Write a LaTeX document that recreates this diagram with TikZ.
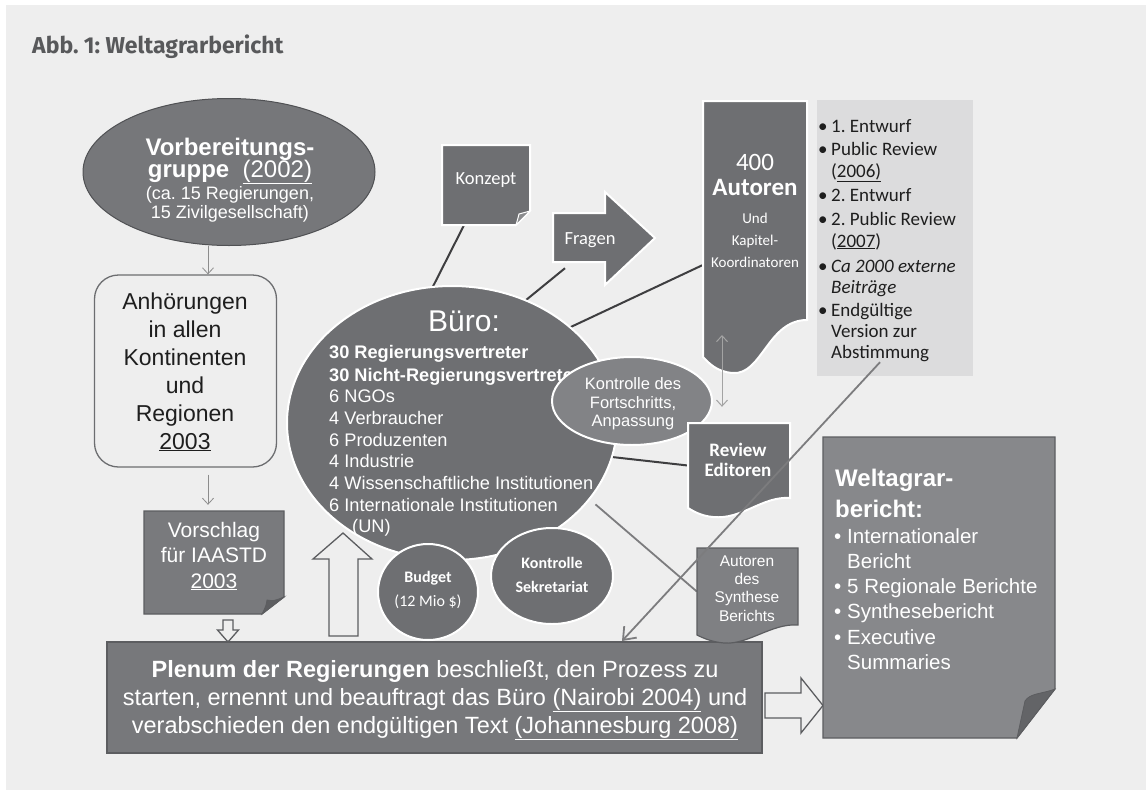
\documentclass[tikz,border=0pt]{standalone}
\usepackage{fontspec}
\setmainfont{Liberation Sans}
\newfontfamily\calfnt{Carlito}
\newfontfamily\titlefnt{Fira Sans}
\usetikzlibrary{shapes.geometric,arrows.meta,calc}
\definecolor{bgc}{HTML}{EEEEEE}
\definecolor{dkf}{HTML}{6E6F72}
\definecolor{vbf}{HTML}{76777A}
\definecolor{vbd}{HTML}{505154}
\definecolor{vsf}{HTML}{797A7D}
\definecolor{plf}{HTML}{77787B}
\definecolor{kff}{HTML}{828386}
\definecolor{syf}{HTML}{7F8083}
\definecolor{wbf}{HTML}{87888B}
\definecolor{bxd}{HTML}{5C5D60}
\definecolor{bulf}{HTML}{DCDCDD}
\definecolor{lnd}{HTML}{3E3E40}
\definecolor{lng}{HTML}{7C7C7E}
\definecolor{thn}{HTML}{8C8C8C}
\definecolor{ttc}{HTML}{58595B}
\definecolor{txd}{HTML}{1E1E1E}
\newcommand\fs[1]{\fontsize{#1}{#1}\selectfont}
\frenchspacing
\begin{document}
\begin{tikzpicture}[x=1pt,y=-1pt,
 lb/.style={inner sep=0pt, anchor=base},
 lbw/.style={inner sep=0pt, anchor=base west},
 bbox/.style={inner sep=0pt, draw=none, rectangle},
 dk/.style={draw=lnd, line width=2pt},
 gl/.style={draw=lng, line width=1.8pt},
 thinar/.style={draw=thn, line width=0.8pt, -{Straight Barb[length=6pt,width=11pt]}},
 blk/.style={fill=bgc, draw=bxd, line width=1.3pt, line join=miter},
 wb/.style={draw=white, line width=2pt},
 wt/.style={text=white},
]
\useasboundingbox (0,0) rectangle (1146,790);
\fill[white] (0,0) rectangle (1146,790);
\fill[bgc] (6,5) rectangle (1146,790);

% title
\node[lbw, text=ttc, font=\titlefnt\bfseries\fs{23}] (title) at (32,53) {Abb. 1: Weltagrarbericht};

% ---------- left column ----------
\node[ellipse, minimum width=292pt, minimum height=147pt, inner sep=0pt, fill=vbf, draw=vbd, line width=1pt] (vorb) at (229,172) {};
\node[lb, wt, font=\bfseries\fs{24}] (vb1) at (230,155) {Vorbereitungs-};
\node[lb, wt, font=\fs{24}] (vb2) at (230,177) {\textbf{gruppe}\ \ \underline{(2002)}};
\node[lb, wt, font=\fs{18}] (vb3) at (230,199) {(ca. 15 Regierungen,};
\node[lb, wt, font=\fs{18}] (vb4) at (230,218) {15 Zivilgesellschaft)};

\node[rectangle, rounded corners=24pt, minimum width=182pt, minimum height=192pt, inner sep=0pt, fill=bgc, draw=bxd!90, line width=1.3pt] (anh) at (185.5,371) {};
\foreach \t/\y [count=\i] in {{Anh\"orungen}/309, {in allen}/337, {Kontinenten}/365, {und}/393, {Regionen}/421, {\underline{2003}}/449}
  \node[lb, text=txd, font=\fs{23}] (an\i) at (185,\y) {\t};

% Vorschlag
\node[bbox, minimum width=140pt, minimum height=103pt] (vors) at (214,562.5) {};
\filldraw[fill=vsf, draw=bxd, line width=1.2pt] (144,511) -- (284,511) -- (284,597) -- (262,614) -- (144,614) -- cycle;
\filldraw[fill=dkf!85!black, draw=bxd, line width=0.8pt] (262,614) .. controls (266,606) .. (267,600) .. controls (274,601) .. (284,597) -- cycle;
\node[lb, wt, font=\fs{21}] (vs1) at (214,537) {Vorschlag};
\node[lb, wt, font=\fs{21}] (vs2) at (214,562) {f\"ur IAASTD};
\node[lb, wt, font=\fs{21}] (vs3) at (214,588) {\underline{2003}};

\draw[thinar] ([xshift=-21pt]vorb.south) -- ([xshift=22.5pt]anh.north);
\draw[thinar] ([xshift=22.5pt,yshift=-7pt]anh.south) -- ([xshift=-6pt,yshift=6pt]vors.north);

% Plenum
\node[rectangle, minimum width=655pt, minimum height=111pt, inner sep=0pt, fill=plf, draw=bxd, line width=2pt] (plen) at (434.5,697.5) {};
\node[lb, wt, font=\fs{23.5}] (pl1) at (435,677) {\textbf{Plenum der Regierungen} beschlie\ss t, den Prozess zu};
\node[lb, wt, font=\fs{23.5}] (pl2) at (435,705) {starten, ernennt und beauftragt das B\"uro \underline{(Nairobi 2004)} und};
\node[lb, wt, font=\fs{23.5}] (pl3) at (435,733) {verabschieden den endg\"ultigen Text \underline{(Johannesburg 2008)}};

% block arrows
\draw[blk] (223,620) -- (233,620) -- (233,630) -- (238.5,630) -- (228,642) -- (217.5,630) -- (223,630) -- cycle;
\draw[blk] (329,636) -- (358,636) -- (358,559) -- (372,559) -- (343,533) -- (313,559) -- (329,559) -- cycle;
\draw[blk] (765,693) -- (801,693) -- (801,678) -- (823,705.5) -- (801,733) -- (801,718) -- (765,718) -- cycle;

% ---------- invisible named frames ----------
\node[bbox, minimum width=88pt, minimum height=80pt] (konz) at (486,185) {};
\node[bbox, minimum width=52pt, minimum height=49pt] (frag) at (579,237.5) {};
\node[bbox, minimum width=104pt, minimum height=219pt] (aut) at (755,210.5) {};
\node[bbox, minimum width=102pt, minimum height=85pt] (rev) at (739,465.5) {};
\node[bbox, minimum width=101pt, minimum height=87pt] (syn) at (747.5,591.5) {};
\node[bbox, minimum width=156pt, minimum height=276pt] (bul) at (895,238) {};

% connectors under shapes
\node[ellipse, minimum width=330pt, minimum height=274pt, inner sep=0pt] (buero) at (452,423) {};
\draw[dk] ([xshift=-22pt]konz.south) -- (buero.98);
\draw[dk] ([xshift=-14pt,yshift=-6pt]frag.south) -- (buero.59);
\draw[dk] ([yshift=-54.5pt]aut.west) -- (buero.39);
\draw[dk] (buero.-12) -- (rev.west);
\draw[gl, shorten <=8pt] (buero.-29) -- (syn.west);

% Büro
\fill[dkf] (buero.center) ellipse[x radius=165, y radius=137];
\draw[wb] (buero.center) ellipse[x radius=165, y radius=137];
\node[lb, wt, font=\fs{30}] (bt) at (464,331) {B\"uro:};
\node[lbw, wt, font=\bfseries\fs{18.2}] (b1) at (329,358) {30 Regierungsvertreter};
\node[lbw, wt, font=\bfseries\fs{18.2}] (b2) at (329,381) {30 Nicht-Regierungsvertreter};
\foreach \t/\y [count=\i] in {{6 NGOs}/402, {4 Verbraucher}/424, {6 Produzenten}/446, {4 Industrie}/467.5, {4 Wissenschaftliche Institutionen}/489, {6 Internationale Institutionen}/511}
  \node[lbw, wt, font=\fs{18.2}] (bl\i) at (329,\y) {\t};
\node[lbw, wt, font=\fs{18.2}] (bun) at (352,532) {(UN)};

% Budget & Kontrolle Sekretariat
\node[ellipse, minimum width=100pt, minimum height=96pt, inner sep=0pt, fill=dkf, wb] (budg) at (428,592) {};
\node[lb, wt, font=\calfnt\bfseries\fs{16}] (bd1) at (428,582) {Budget};
\node[lb, wt, font=\calfnt\fs{16}] (bd2) at (428,606) {(12 Mio \$)};
\node[ellipse, minimum width=122pt, minimum height=96pt, inner sep=0pt, fill=dkf, wb] (ksek) at (552,576) {};
\node[lb, wt, font=\calfnt\bfseries\fs{16}] (ks1) at (552,568) {Kontrolle};
\node[lb, wt, font=\calfnt\bfseries\fs{16}] (ks2) at (552,592) {Sekretariat};

% Kontrolle des Fortschritts
\node[ellipse, minimum width=160pt, minimum height=88pt, inner sep=0pt, fill=kff, wb] (kfort) at (632,401) {};
\node[lb, wt, font=\fs{16.5}] (kf1) at (633,389) {Kontrolle des};
\node[lb, wt, font=\fs{16.5}] (kf2) at (633,408) {Fortschritts,};
\node[lb, wt, font=\fs{16.5}] (kf3) at (633,426) {Anpassung};

% Konzept
\filldraw[fill=dkf, wb, line join=miter] (442,145) -- (530,145) -- (530,211) -- (516,225) -- (442,225) -- cycle;
\filldraw[fill=dkf!80!white, draw=white, line width=1pt] (516,225) .. controls (518,218) .. (519,214) .. controls (524,213) .. (530,211) -- cycle;
\node[lb, wt, font=\calfnt\fs{18.5}] (kzt) at (486,184) {Konzept};

% Fragen arrow
\filldraw[fill=dkf, wb, line join=miter] (553,213) -- (605,213) -- (605,192) -- (655,238) -- (605,285) -- (605,262) -- (553,262) -- cycle;
\node[lb, wt, font=\calfnt\fs{18.5}] (fgt) at (590,244) {Fragen};

% Autoren
\filldraw[fill=dkf, wb] (703,101) -- (807,101) -- (807,320) .. controls (768,320) and (762,375) .. (733,373) .. controls (716,372) and (708,362) .. (703,357) -- cycle;
\node[lb, wt, font=\calfnt\fs{25}] (a1) at (755,170) {400};
\node[lb, wt, font=\calfnt\bfseries\fs{25}] (a2) at (755,195) {Autoren};
\node[lb, wt, font=\calfnt\fs{15}] (a3) at (755,223) {Und};
\node[lb, wt, font=\calfnt\fs{15}] (a4) at (755,245) {Kapitel-};
\node[lb, wt, font=\calfnt\fs{15}] (a5) at (755,267) {Koordinatoren};

% Review Editoren
\filldraw[fill=dkf, wb] (688,423) -- (790,423) -- (790,498) .. controls (762,496) and (742,520) .. (713,517) .. controls (701,516) and (693,511) .. (688,508) -- cycle;
\node[lb, wt, font=\calfnt\bfseries\fs{19}] (r1) at (738,456) {Review};
\node[lb, wt, font=\calfnt\bfseries\fs{19}] (r2) at (738,476) {Editoren};

% Autoren des Synthese Berichts
\filldraw[fill=syf, draw=bxd, line width=1.2pt] (697,548) -- (798,548) -- (798,625) .. controls (772,623) and (748,645) .. (724,643) .. controls (711,642) and (701,637) .. (697,635) -- cycle;
\foreach \t/\y [count=\i] in {{Autoren}/566, {des}/584, {Synthese}/602, {Berichts}/621}
  \node[lb, wt, font=\fs{15.5}] (sy\i) at (747,\y) {\t};

% bullet list box
\fill[bulf] (817,100) rectangle (973,376);
\foreach \y [count=\i] in {132,155,201,225,272,316}
  \node[lbw, text=txd, font=\calfnt\fs{19}] (bb\i) at (818,\y) {\textbullet};
\foreach \t/\y [count=\i] in {{1. Entwurf}/132, {Public Review}/155, {(\underline{2006)}}/177, {2. Entwurf}/201, {2. Public Review}/225, {(\underline{2007})}/247, {\textit{Ca 2000 externe}}/272, {\textit{Beitr\"age}}/293, {Endg\"ultige}/316, {Version zur}/337, {Abstimmung}/358}
  \node[lbw, text=txd, font=\calfnt\fs{19}] (bu\i) at (831,\y) {\t};

% Weltagrarbericht
\node[bbox, minimum width=232pt, minimum height=301pt] (welt) at (939,587.5) {};
\filldraw[fill=wbf, draw=bxd, line width=1.2pt, line join=miter] (823,437) -- (1055,437) -- (1055,689) -- (1017,738) -- (823,738) -- cycle;
\filldraw[fill=dkf!90!black, draw=bxd, line width=0.8pt] (1017,738) -- (1025,701) .. controls (1030,693) and (1042,694) .. (1055,689) -- cycle;
\node[lbw, wt, font=\bfseries\fs{24}] (w1) at (835,486) {Weltagrar-};
\node[lbw, wt, font=\bfseries\fs{24}] (w2) at (835,517) {bericht:};
\foreach \y [count=\i] in {543,593,618,644}
  \node[lbw, wt, font=\fs{20.5}] (wb\i) at (834,\y) {\textbullet};
\foreach \t/\y [count=\i] in {{Internationaler}/543, {Bericht}/568, {5 Regionale Berichte}/593, {Synthesebericht}/618, {Executive}/644, {Summaries}/669}
  \node[lbw, wt, font=\fs{20.5}] (wl\i) at (847,\y) {\t};

% connectors on top
\draw[gl, -{Straight Barb[length=11pt,width=17pt]}] ([xshift=-15pt,yshift=14pt]bul.south) -- ([xshift=187.5pt]plen.north);
\draw[draw=thn!80!white, line width=1pt, {Straight Barb[length=6pt,width=11pt]}-{Straight Barb[length=6pt,width=11pt]}] ([xshift=-33pt,yshift=-124.5pt]aut.center) -- ([xshift=-17pt,yshift=16pt]rev.north);
\end{tikzpicture}
\end{document}
